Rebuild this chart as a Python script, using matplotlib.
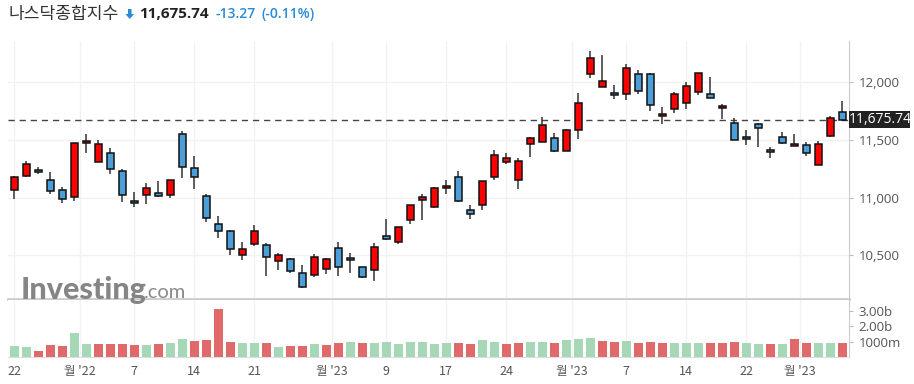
import matplotlib
matplotlib.use("Agg")
import matplotlib.pyplot as plt
import matplotlib.patches as patches

plt.rcParams['font.family'] = ['Noto Sans CJK KR', 'DejaVu Sans']

# daily candles, oldest first
opens = [11064, 11185, 11237, 11151, 11064, 11003, 11471, 11312, 11385, 11229,
         10969, 11021, 11038, 11021, 11549, 11255, 11012, 10769, 10709, 10501,
         10596, 10587, 10449, 10466, 10345, 10327, 10379, 10561, 10475, 10397,
         10371, 10665, 10613, 10804, 10977, 10917, 11081, 11177, 10891, 10934,
         11177, 11307, 11151, 11463, 11480, 11515, 11402, 11584, 12069, 11957,
         11905, 11896, 12069, 12069, 11705, 11766, 11818, 11913, 11896, 11775,
         11645, 11523, 11636, 11411, 11523, 11445, 11454, 11281, 11532, 11740]
highs = [11191, 11318, 11266, 11220, 11093, 11471, 11549, 11497, 11431, 11246,
         11047, 11125, 11142, 11151, 11575, 11359, 11029, 10839, 10717, 10613,
         10761, 10605, 10518, 10475, 10414, 10509, 10475, 10613, 10518, 10397,
         10605, 10813, 10743, 10934, 11029, 11090, 11151, 11229, 10934, 11142,
         11411, 11385, 11341, 11523, 11697, 11558, 11593, 11905, 12269, 12234,
         11974, 12156, 12104, 12078, 11783, 11913, 12000, 12078, 12043, 11809,
         11688, 11584, 11645, 11437, 11567, 11549, 11480, 11489, 11705, 11835]
lows = [10986, 11180, 11208, 11032, 10951, 10974, 11385, 11312, 11203, 10960,
        10917, 10943, 11003, 10995, 11168, 11073, 10787, 10648, 10501, 10457,
        10579, 10319, 10371, 10345, 10215, 10310, 10336, 10319, 10345, 10301,
        10275, 10631, 10596, 10769, 10804, 10908, 11029, 10960, 10813, 10891,
        11151, 11289, 11073, 11350, 11480, 11393, 11402, 11506, 12035, 11957,
        11853, 11844, 11896, 11749, 11636, 11731, 11766, 11887, 11861, 11679,
        11497, 11454, 11437, 11341, 11463, 11445, 11359, 11281, 11523, 11675.74]
closes = [11177, 11289, 11220, 11055, 10991, 11471, 11489, 11463, 11246, 11021,
          10951, 11081, 11012, 11151, 11263, 11177, 10821, 10709, 10553, 10553,
          10709, 10483, 10501, 10362, 10224, 10483, 10466, 10397, 10457, 10310,
          10570, 10639, 10743, 10934, 11003, 11081, 11099, 10969, 10856, 11142,
          11367, 11341, 11315, 11515, 11627, 11402, 11584, 11818, 12208, 12009,
          11887, 12121, 11922, 11801, 11723, 11896, 11965, 12078, 11861, 11792,
          11497, 11506, 11601, 11393, 11471, 11463, 11385, 11463, 11688, 11675.74]
# volume in billions, and its colour: g = close above previous close, r = below
volumes = [0.72, 0.65, 0.37, 0.78, 0.72, 1.57, 0.85, 0.85, 0.85, 0.85,
           0.78, 0.78, 0.85, 0.92, 1.18, 1.05, 1.11, 3.14, 0.98, 0.92,
           0.92, 0.92, 0.65, 0.72, 0.72, 0.85, 0.78, 0.92, 0.98, 0.92,
           0.92, 0.98, 0.85, 0.98, 0.98, 0.85, 0.92, 0.92, 0.83, 1.11,
           0.98, 0.85, 0.92, 0.98, 0.98, 0.92, 1.11, 1.18, 1.24, 1.05,
           0.98, 1.05, 0.92, 0.98, 0.92, 0.92, 0.92, 0.92, 0.92, 0.92,
           0.98, 0.92, 0.85, 0.85, 0.85, 1.18, 0.92, 0.92, 0.92, 0.92]
vol_dir = "ggrrrggrrrrgrggrrrrggrgrrgrrgrggggggg" + "rrggrrggrgggrrgrrrgggrrrggrgrrggr"
vol_dir = vol_dir[:70]

tick_pos = [0, 5.5, 10, 15, 20, 26.5, 31, 36, 41, 46.5, 51, 56, 61, 65.5]
tick_labels = ["22", "월 '22", "7", "14", "21", "월 '23", "9", "17", "24",
               "월 '23", "7", "14", "22", "월 '23"]
price_ticks = [10500, 11000, 11500, 12000]
vol_ticks = [1.0, 2.0, 3.0]
vol_tick_labels = ["1000m", "2.00b", "3.00b"]

last_price = 11675.74
change = -13.27
change_pct = -0.11

W, H = 914, 384
fig = plt.figure(figsize=(W / 100, H / 100), dpi=100)
fig.patch.set_facecolor("white")

left, right = 8 / W, 849 / W
ax = fig.add_axes([left, 1 - 299 / H, right - left, (299 - 41) / H])
axv = fig.add_axes([left, 1 - 357 / H, right - left, (357 - 300) / H], sharex=ax)

n = len(closes)
xs = list(range(n))
up_col, down_col = "#ff0000", "#4c9ed9"

# wicks then bodies
ax.vlines(xs, lows, highs, color="#333333", linewidth=1.1, zorder=2)
body_bottom = [min(o, c) for o, c in zip(opens, closes)]
body_height = [max(abs(c - o), 12) for o, c in zip(opens, closes)]
body_col = [up_col if c >= o else down_col for o, c in zip(opens, closes)]
ax.bar(xs, body_height, bottom=body_bottom, width=0.56, color=body_col,
       edgecolor="#111111", linewidth=1.1, zorder=3)

ax.set_xlim(-0.53, 69.56)
ax.set_ylim(10122, 12358)
ax.axhline(last_price, color="#444444", linewidth=1, linestyle=(0, (4.5, 3.5)), zorder=1)

for a in (ax, axv):
    for t in tick_pos:
        a.axvline(t, color="#f2f2f2", linewidth=1, zorder=0)
    for s in ("top", "left", "bottom"):
        a.spines[s].set_visible(False)
    a.spines["right"].set_color("#cccccc")
    a.yaxis.tick_right()
    a.tick_params(axis="y", length=3, width=0.8, color="#bbbbbb",
                  labelcolor="#555555", labelsize=9.5, pad=4)

for p in price_ticks:
    ax.axhline(p, color="#f2f2f2", linewidth=1, zorder=0)
ax.set_yticks(price_ticks)
ax.set_yticklabels([f"{p:,}" for p in price_ticks], family=["Open Sans", "DejaVu Sans"])
ax.tick_params(axis="x", length=0, labelbottom=False)
ax.plot([-0.53, 69.56], [10122, 10122], color="#cccccc", linewidth=2,
        clip_on=False, zorder=5)

# current price box on the right axis
fig.patches.append(patches.Rectangle((849 / W, 1 - 128 / H), 61 / W, 17 / H,
                                     transform=fig.transFigure, facecolor="#222222",
                                     edgecolor="none"))
fig.text(880 / W, 1 - 119.5 / H, f"{last_price:,.2f}", ha="center", va="center",
         color="white", fontsize=10, family=["Open Sans", "DejaVu Sans"])

# volume pane
vcol = ["#a6d7b6" if d == "g" else "#e06a6a" for d in vol_dir]
axv.bar(xs, volumes, width=0.76, color=vcol, zorder=2)
axv.set_ylim(0, 3.72)
axv.set_yticks(vol_ticks)
axv.set_yticklabels(vol_tick_labels, family=["Open Sans", "DejaVu Sans"])
axv.spines["bottom"].set_visible(True)
axv.spines["bottom"].set_color("#dddddd")
axv.set_xticks(tick_pos)
axv.set_xticklabels(tick_labels)
axv.tick_params(axis="x", length=0, labelcolor="#555555", labelsize=9, pad=6)

# header
blue_txt = "#2a8ad8"
fig.text(9 / W, 1 - 14 / H, "나스닥종합지수", ha="left", va="center",
         fontsize=12.3, color="#333333")
# down-arrow icon
arrow = [(128, 9), (131.5, 9), (131.5, 14), (134, 14), (129.75, 19), (125.5, 14), (128, 14)]
fig.patches.append(patches.Polygon([(x / W, 1 - y / H) for x, y in arrow], closed=True,
                                   transform=fig.transFigure, facecolor=blue_txt,
                                   edgecolor="none"))
fig.text(139 / W, 1 - 14 / H, f"{last_price:,.2f}", ha="left", va="center",
         fontsize=11, fontweight="bold", color="#222222", family=["Open Sans", "DejaVu Sans"])
fig.text(216 / W, 1 - 14 / H, f"{change:.2f}", ha="left", va="center",
         fontsize=10, fontweight="semibold", color=blue_txt, family=["Open Sans", "DejaVu Sans"])
fig.text(261 / W, 1 - 14 / H, f"({change_pct:.2f}%)", ha="left", va="center",
         fontsize=10, fontweight="semibold", color=blue_txt, family=["Open Sans", "DejaVu Sans"])

# watermark
fig.text(21 / W, 1 - 290 / H, "Investing", ha="left", va="center", fontsize=22,
         fontweight="black", color="#858585", family=["Lato", "DejaVu Sans"])
fig.text(144 / W, 1 - 292 / H, ".com", ha="left", va="center", fontsize=14.5,
         color="#8a8a8a", family=["Lato", "DejaVu Sans"])

fig.savefig("out.png", dpi=100)
